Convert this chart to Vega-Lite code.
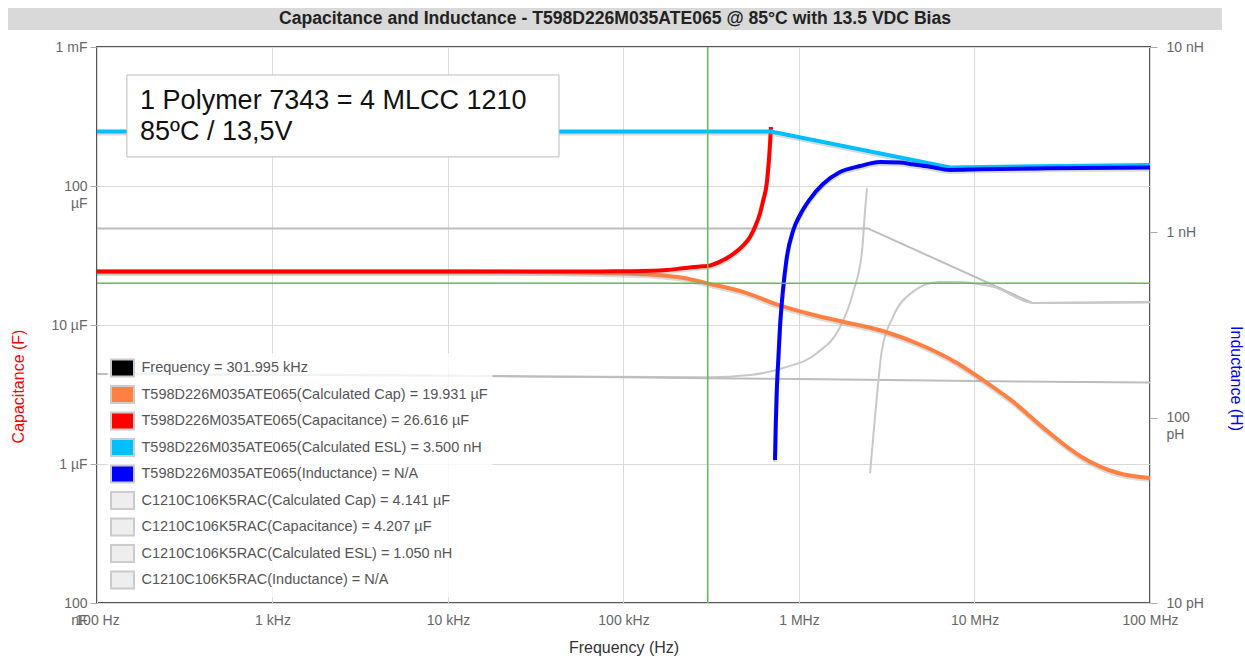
{
  "$schema": "https://vega.github.io/schema/vega-lite/v6.json",
  "background": "white",
  "autosize": {"type": "none"},
  "padding": {"left": 97, "top": 47, "right": 95, "bottom": 56},
  "width": 1053,
  "height": 556,
  "config": {"font": "Liberation Sans"},
  "view": {"stroke": "#555555", "strokeWidth": 2},
  "datasets": {
    "curves": [
      {"s":"tc","f":100,"v":2.43e-5},{"s":"tc","f":1000,"v":2.43e-5},{"s":"tc","f":10000,"v":2.43e-5},{"s":"tc","f":40000,"v":2.43e-5},{"s":"tc","f":73500,"v":2.43e-5},{"s":"tc","f":113000,"v":2.44e-5},{"s":"tc","f":177000,"v":2.49e-5},{"s":"tc","f":218000,"v":2.56e-5},{"s":"tc","f":273000,"v":2.635e-5},{"s":"tc","f":301995,"v":2.6616e-5},{"s":"tc","f":355000,"v":2.86e-5},{"s":"tc","f":421000,"v":3.24e-5},{"s":"tc","f":480000,"v":3.73e-5},{"s":"tc","f":526000,"v":4.30e-5},{"s":"tc","f":561000,"v":5.07e-5},{"s":"tc","f":599000,"v":6.34e-5},{"s":"tc","f":626000,"v":7.93e-5},{"s":"tc","f":655000,"v":1.046e-4},{"s":"tc","f":669000,"v":1.376e-4},{"s":"tc","f":684000,"v":2.028e-4},{"s":"tc","f":692000,"v":2.657e-4},
      {"s":"tcc","f":100,"v":2.43e-5},{"s":"tcc","f":10000,"v":2.43e-5},{"s":"tcc","f":40000,"v":2.40e-5},{"s":"tcc","f":73500,"v":2.37e-5},{"s":"tcc","f":149000,"v":2.30e-5},{"s":"tcc","f":220000,"v":2.18e-5},{"s":"tcc","f":301995,"v":1.9931e-5},{"s":"tcc","f":480000,"v":1.73e-5},{"s":"tcc","f":769000,"v":1.39e-5},{"s":"tcc","f":1217000,"v":1.18e-5},{"s":"tcc","f":1953000,"v":1.03e-5},{"s":"tcc","f":3130000,"v":8.91e-6},{"s":"tcc","f":4960000,"v":7.18e-6},{"s":"tcc","f":7950000,"v":5.33e-6},{"s":"tcc","f":11600000,"v":3.89e-6},{"s":"tcc","f":16100000,"v":2.89e-6},{"s":"tcc","f":25500000,"v":1.76e-6},{"s":"tcc","f":41000000,"v":1.12e-6},{"s":"tcc","f":65700000,"v":8.61e-7},{"s":"tcc","f":100000000,"v":7.93e-7},
      {"s":"tesl","f":100,"v":3.5e-9},{"s":"tesl","f":692000,"v":3.5e-9},{"s":"tesl","f":7254000,"v":2.24e-9},{"s":"tesl","f":100000000,"v":2.31e-9},
      {"s":"ti","f":730000,"v":5.904e-11},{"s":"ti","f":736600,"v":8.897e-11},{"s":"ti","f":746300,"v":1.357e-10},{"s":"ti","f":762000,"v":2.046e-10},{"s":"ti","f":779300,"v":3.083e-10},{"s":"ti","f":807400,"v":4.70e-10},{"s":"ti","f":851100,"v":7.265e-10},{"s":"ti","f":928100,"v":1.029e-9},{"s":"ti","f":1013200,"v":1.24e-9},{"s":"ti","f":1155100,"v":1.512e-9},{"s":"ti","f":1370000,"v":1.822e-9},{"s":"ti","f":1712500,"v":2.115e-9},{"s":"ti","f":2226300,"v":2.279e-9},{"s":"ti","f":2894000,"v":2.395e-9},{"s":"ti","f":3764000,"v":2.38e-9},{"s":"ti","f":4463000,"v":2.328e-9},{"s":"ti","f":5578000,"v":2.259e-9},{"s":"ti","f":7254000,"v":2.169e-9},{"s":"ti","f":10750000,"v":2.188e-9},{"s":"ti","f":25890000,"v":2.215e-9},{"s":"ti","f":100000000,"v":2.24e-9},
      {"s":"mc","f":100,"v":4.45e-6},{"s":"mc","f":1000,"v":4.38e-6},{"s":"mc","f":10000,"v":4.3e-6},{"s":"mc","f":100000,"v":4.24e-6},{"s":"mc","f":301995,"v":4.207e-6},{"s":"mc","f":526000,"v":4.37e-6},{"s":"mc","f":811000,"v":4.91e-6},{"s":"mc","f":1268000,"v":6.29e-6},{"s":"mc","f":1714000,"v":9.68e-6},{"s":"mc","f":2030000,"v":1.70e-5},{"s":"mc","f":2290000,"v":3.47e-5},{"s":"mc","f":2380000,"v":6.72e-5},{"s":"mc","f":2440000,"v":9.67e-5},
      {"s":"mcc","f":100,"v":4.45e-6},{"s":"mcc","f":10000,"v":4.33e-6},{"s":"mcc","f":100000,"v":4.2e-6},{"s":"mcc","f":301995,"v":4.141e-6},{"s":"mcc","f":1000000,"v":4.08e-6},{"s":"mcc","f":10000000,"v":3.95e-6},{"s":"mcc","f":100000000,"v":3.85e-6},
      {"s":"mesl","f":100,"v":1.05e-9},{"s":"mesl","f":2470000,"v":1.05e-9},{"s":"mesl","f":21500000,"v":4.15e-10},{"s":"mesl","f":100000000,"v":4.2e-10},
      {"s":"mi","f":2540000,"v":5.02e-11},{"s":"mi","f":2710000,"v":1.007e-10},{"s":"mi","f":2970000,"v":2.32e-10},{"s":"mi","f":3430000,"v":3.49e-10},{"s":"mi","f":4350000,"v":4.70e-10},{"s":"mi","f":6280000,"v":5.39e-10},{"s":"mi","f":7950000,"v":5.39e-10},{"s":"mi","f":10070000,"v":5.3e-10},{"s":"mi","f":12700000,"v":5.1e-10},{"s":"mi","f":21800000,"v":4.15e-10},{"s":"mi","f":100000000,"v":4.2e-10}
    ],
    "legend": [
      {"label":"Frequency = 301.995 kHz"},
      {"label":"T598D226M035ATE065(Calculated Cap) = 19.931 µF"},
      {"label":"T598D226M035ATE065(Capacitance) = 26.616 µF"},
      {"label":"T598D226M035ATE065(Calculated ESL) = 3.500 nH"},
      {"label":"T598D226M035ATE065(Inductance) = N/A"},
      {"label":"C1210C106K5RAC(Calculated Cap) = 4.141 µF"},
      {"label":"C1210C106K5RAC(Capacitance) = 4.207 µF"},
      {"label":"C1210C106K5RAC(Calculated ESL) = 1.050 nH"},
      {"label":"C1210C106K5RAC(Inductance) = N/A"}
    ]
  },
  "data": {"name": "curves"},
  "resolve": {"scale": {"y": "independent"}},
  "layer": [
    {
      "transform": [{"filter": "datum.s == 'mc'"}],
      "mark": {"type": "line", "color": "#c8c8c8", "strokeWidth": 2, "interpolate": "monotone"},
      "encoding": {
        "x": {"field": "f", "type": "quantitative", "scale": {"type": "log", "domain": [100, 100000000]},
          "axis": {"values": [100, 1000, 10000, 100000, 1000000, 10000000, 100000000],
            "labelExpr": "datum.value < 500 ? '100 Hz' : datum.value < 5000 ? '1 kHz' : datum.value < 50000 ? '10 kHz' : datum.value < 500000 ? '100 kHz' : datum.value < 5000000 ? '1 MHz' : datum.value < 50000000 ? '10 MHz' : '100 MHz'",
            "title": "Frequency (Hz)", "grid": true, "gridColor": "#d9d9d9", "ticks": false, "domain": false,
            "labelFont": "Liberation Sans", "labelFontSize": 14, "labelColor": "#666666", "labelPadding": 10, "labelFlush": false, "labelOverlap": false,
            "titleFont": "Liberation Sans", "titleFontSize": 16, "titleFontWeight": "normal", "titleColor": "#333333", "titlePadding": 12}},
        "y": {"field": "v", "type": "quantitative", "scale": {"type": "log", "domain": [1e-7, 1e-3]},
          "axis": {"orient": "left", "values": [1e-7, 1e-6, 1e-5, 1e-4, 1e-3],
            "labelExpr": "datum.value < 5e-7 ? ['100','nF'] : datum.value < 5e-6 ? '1 µF' : datum.value < 5e-5 ? '10 µF' : datum.value < 5e-4 ? ['100','µF'] : '1 mF'",
            "grid": true, "gridColor": "#d9d9d9", "ticks": true, "tickColor": "#aaaaaa", "tickSize": 7, "domain": false,
            "labelFont": "Liberation Sans", "labelFontSize": 14, "labelColor": "#666666", "labelPadding": 3, "labelFlush": false, "labelOverlap": false, "labelLineHeight": 17,
            "title": "Capacitance (F)", "titleFont": "Liberation Sans", "titleFontSize": 16, "titleFontWeight": "normal", "titleColor": "#ff0000",
            "titleX": -79, "titleY": 339, "titleBaseline": "middle", "titleAlign": "center"}}
      }
    },
    {
      "transform": [{"filter": "datum.s == 'mcc'"}],
      "mark": {"type": "line", "color": "#bdbdbd", "strokeWidth": 2},
      "encoding": {
        "x": {"field": "f", "type": "quantitative", "scale": {"type": "log", "domain": [100, 100000000]}},
        "y": {"field": "v", "type": "quantitative", "scale": {"type": "log", "domain": [1e-7, 1e-3]}, "axis": null}
      }
    },
    {
      "transform": [{"filter": "datum.s == 'mesl'"}],
      "mark": {"type": "line", "color": "#bdbdbd", "strokeWidth": 2},
      "encoding": {
        "x": {"field": "f", "type": "quantitative", "scale": {"type": "log", "domain": [100, 100000000]}},
        "y": {"field": "v", "type": "quantitative", "scale": {"type": "log", "domain": [1e-11, 1e-8]},
          "axis": {"orient": "right", "values": [1e-11, 1e-10, 1e-9, 1e-8],
            "labelExpr": "datum.value < 5e-11 ? '10 pH' : datum.value < 5e-10 ? ['100','pH'] : datum.value < 5e-9 ? '1 nH' : '10 nH'",
            "grid": false, "ticks": true, "tickColor": "#aaaaaa", "tickSize": 7, "domain": false,
            "labelFont": "Liberation Sans", "labelFontSize": 14, "labelColor": "#666666", "labelPadding": 9, "labelFlush": false, "labelOverlap": false, "labelLineHeight": 17,
            "title": "Inductance (H)", "titleFont": "Liberation Sans", "titleFontSize": 16, "titleFontWeight": "normal", "titleColor": "#0000ff",
            "titleX": 85, "titleY": 331, "titleBaseline": "middle", "titleAlign": "center"}}
      }
    },
    {
      "transform": [{"filter": "datum.s == 'mi'"}],
      "mark": {"type": "line", "color": "#c8c8c8", "strokeWidth": 2, "interpolate": "monotone"},
      "encoding": {
        "x": {"field": "f", "type": "quantitative", "scale": {"type": "log", "domain": [100, 100000000]}},
        "y": {"field": "v", "type": "quantitative", "scale": {"type": "log", "domain": [1e-11, 1e-8]}, "axis": null}
      }
    },
    {
      "transform": [{"filter": "datum.s == 'tcc'"}],
      "mark": {"type": "line", "color": "#999999", "opacity": 0.35, "strokeWidth": 4, "interpolate": "monotone", "yOffset": 2},
      "encoding": {
        "x": {"field": "f", "type": "quantitative", "scale": {"type": "log", "domain": [100, 100000000]}},
        "y": {"field": "v", "type": "quantitative", "scale": {"type": "log", "domain": [1e-7, 1e-3]}, "axis": null}
      }
    },
    {
      "transform": [{"filter": "datum.s == 'tcc'"}],
      "mark": {"type": "line", "color": "#ff8040", "strokeWidth": 4, "interpolate": "monotone"},
      "encoding": {
        "x": {"field": "f", "type": "quantitative", "scale": {"type": "log", "domain": [100, 100000000]}},
        "y": {"field": "v", "type": "quantitative", "scale": {"type": "log", "domain": [1e-7, 1e-3]}, "axis": null}
      }
    },
    {
      "transform": [{"filter": "datum.s == 'tc'"}],
      "mark": {"type": "line", "color": "#999999", "opacity": 0.35, "strokeWidth": 4, "interpolate": "monotone", "yOffset": 2},
      "encoding": {
        "x": {"field": "f", "type": "quantitative", "scale": {"type": "log", "domain": [100, 100000000]}},
        "y": {"field": "v", "type": "quantitative", "scale": {"type": "log", "domain": [1e-7, 1e-3]}, "axis": null}
      }
    },
    {
      "transform": [{"filter": "datum.s == 'tc'"}],
      "mark": {"type": "line", "color": "#ff0000", "strokeWidth": 4, "interpolate": "monotone"},
      "encoding": {
        "x": {"field": "f", "type": "quantitative", "scale": {"type": "log", "domain": [100, 100000000]}},
        "y": {"field": "v", "type": "quantitative", "scale": {"type": "log", "domain": [1e-7, 1e-3]}, "axis": null}
      }
    },
    {
      "transform": [{"filter": "datum.s == 'tesl'"}],
      "mark": {"type": "line", "color": "#999999", "opacity": 0.35, "strokeWidth": 4, "yOffset": 2},
      "encoding": {
        "x": {"field": "f", "type": "quantitative", "scale": {"type": "log", "domain": [100, 100000000]}},
        "y": {"field": "v", "type": "quantitative", "scale": {"type": "log", "domain": [1e-11, 1e-8]}, "axis": null}
      }
    },
    {
      "transform": [{"filter": "datum.s == 'tesl'"}],
      "mark": {"type": "line", "color": "#00bfff", "strokeWidth": 4},
      "encoding": {
        "x": {"field": "f", "type": "quantitative", "scale": {"type": "log", "domain": [100, 100000000]}},
        "y": {"field": "v", "type": "quantitative", "scale": {"type": "log", "domain": [1e-11, 1e-8]}, "axis": null}
      }
    },
    {
      "transform": [{"filter": "datum.s == 'ti'"}],
      "mark": {"type": "line", "color": "#999999", "opacity": 0.35, "strokeWidth": 4, "interpolate": "monotone", "yOffset": 2},
      "encoding": {
        "x": {"field": "f", "type": "quantitative", "scale": {"type": "log", "domain": [100, 100000000]}},
        "y": {"field": "v", "type": "quantitative", "scale": {"type": "log", "domain": [1e-11, 1e-8]}, "axis": null}
      }
    },
    {
      "transform": [{"filter": "datum.s == 'ti'"}],
      "mark": {"type": "line", "color": "#0000ff", "strokeWidth": 4, "interpolate": "monotone"},
      "encoding": {
        "x": {"field": "f", "type": "quantitative", "scale": {"type": "log", "domain": [100, 100000000]}},
        "y": {"field": "v", "type": "quantitative", "scale": {"type": "log", "domain": [1e-11, 1e-8]}, "axis": null}
      }
    },
    {
      "data": {"values": [{}]},
      "mark": {"type": "rule", "stroke": "#55c455", "color": "#55c455", "strokeWidth": 1.5, "opacity": 1},
      "encoding": {
        "x": {"datum": 301995, "type": "quantitative", "scale": {"type": "log", "domain": [100, 100000000]}}
      }
    },
    {
      "data": {"values": [{}]},
      "mark": {"type": "rule", "stroke": "#55c455", "color": "#55c455", "strokeWidth": 1.5, "opacity": 1},
      "encoding": {
        "y": {"datum": 1.9931e-5, "type": "quantitative", "scale": {"type": "log", "domain": [1e-7, 1e-3]}, "axis": null}
      }
    },
    {
      "data": {"values": [{}]},
      "mark": {"type": "rect", "fill": "white", "stroke": "#bbbbbb", "strokeWidth": 1},
      "encoding": {
        "x": {"datum": 148, "type": "quantitative", "scale": {"type": "log", "domain": [100, 100000000]}},
        "x2": {"datum": 42900},
        "y": {"datum": 6.29e-4, "type": "quantitative", "scale": {"type": "log", "domain": [1e-7, 1e-3]}, "axis": null},
        "y2": {"datum": 1.62e-4}
      }
    },
    {
      "data": {"values": [{}]},
      "mark": {"type": "text", "text": "1 Polymer 7343 = 4 MLCC 1210", "font": "Liberation Sans", "fontSize": 27, "align": "left", "baseline": "alphabetic", "color": "#111111"},
      "encoding": {
        "x": {"datum": 176, "type": "quantitative", "scale": {"type": "log", "domain": [100, 100000000]}},
        "y": {"datum": 3.58e-4, "type": "quantitative", "scale": {"type": "log", "domain": [1e-7, 1e-3]}, "axis": null}
      }
    },
    {
      "data": {"values": [{}]},
      "mark": {"type": "text", "text": "85ºC / 13,5V", "font": "Liberation Sans", "fontSize": 27, "align": "left", "baseline": "alphabetic", "color": "#111111"},
      "encoding": {
        "x": {"datum": 176, "type": "quantitative", "scale": {"type": "log", "domain": [100, 100000000]}},
        "y": {"datum": 2.14e-4, "type": "quantitative", "scale": {"type": "log", "domain": [1e-7, 1e-3]}, "axis": null}
      }
    },
    {
      "data": {"values": [{}]},
      "mark": {"type": "rect", "fill": "#d9d9d9", "clip": false},
      "encoding": {
        "x": {"datum": 31.11, "type": "quantitative", "scale": {"type": "log", "domain": [100, 100000000]}},
        "x2": {"datum": 257000000},
        "y": {"datum": 1.908e-3, "type": "quantitative", "scale": {"type": "log", "domain": [1e-7, 1e-3]}, "axis": null},
        "y2": {"datum": 1.3259e-3}
      }
    },
    {
      "data": {"values": [{}]},
      "mark": {"type": "text", "text": "Capacitance and Inductance - T598D226M035ATE065 @ 85°C with 13.5 VDC Bias", "font": "Liberation Sans", "fontSize": 17.6, "fontWeight": "bold", "align": "center", "baseline": "middle", "color": "#222222", "clip": false},
      "encoding": {
        "x": {"datum": 89450, "type": "quantitative", "scale": {"type": "log", "domain": [100, 100000000]}},
        "y": {"datum": 1.59e-3, "type": "quantitative", "scale": {"type": "log", "domain": [1e-7, 1e-3]}, "axis": null}
      }
    },
    {
      "data": {"name": "legend"},
      "mark": {"type": "square", "opacity": 0},
      "encoding": {
        "fill": {"field": "label", "type": "nominal",
          "scale": {"domain": [
            "Frequency = 301.995 kHz",
            "T598D226M035ATE065(Calculated Cap) = 19.931 µF",
            "T598D226M035ATE065(Capacitance) = 26.616 µF",
            "T598D226M035ATE065(Calculated ESL) = 3.500 nH",
            "T598D226M035ATE065(Inductance) = N/A",
            "C1210C106K5RAC(Calculated Cap) = 4.141 µF",
            "C1210C106K5RAC(Capacitance) = 4.207 µF",
            "C1210C106K5RAC(Calculated ESL) = 1.050 nH",
            "C1210C106K5RAC(Inductance) = N/A"],
            "range": ["#000000", "#ff8040", "#ff0000", "#00bfff", "#0000ff", "#eeeeee", "#eeeeee", "#eeeeee", "#eeeeee"]},
          "legend": {"title": null, "orient": "none", "legendX": 10.5, "legendY": 306, "direction": "vertical",
            "symbolType": "M-1.15,-0.85H1.15V0.85H-1.15Z", "symbolSize": 400, "symbolStrokeColor": "#cccccc", "symbolStrokeWidth": 2, "symbolOpacity": 1,
            "labelFont": "Liberation Sans", "labelFontSize": 14.5, "labelColor": "#555555", "labelLimit": 600, "labelOffset": 8,
            "rowPadding": 0.5, "padding": 4, "fillColor": "rgba(255,255,255,0.8)"}}
      }
    }
  ]
}
